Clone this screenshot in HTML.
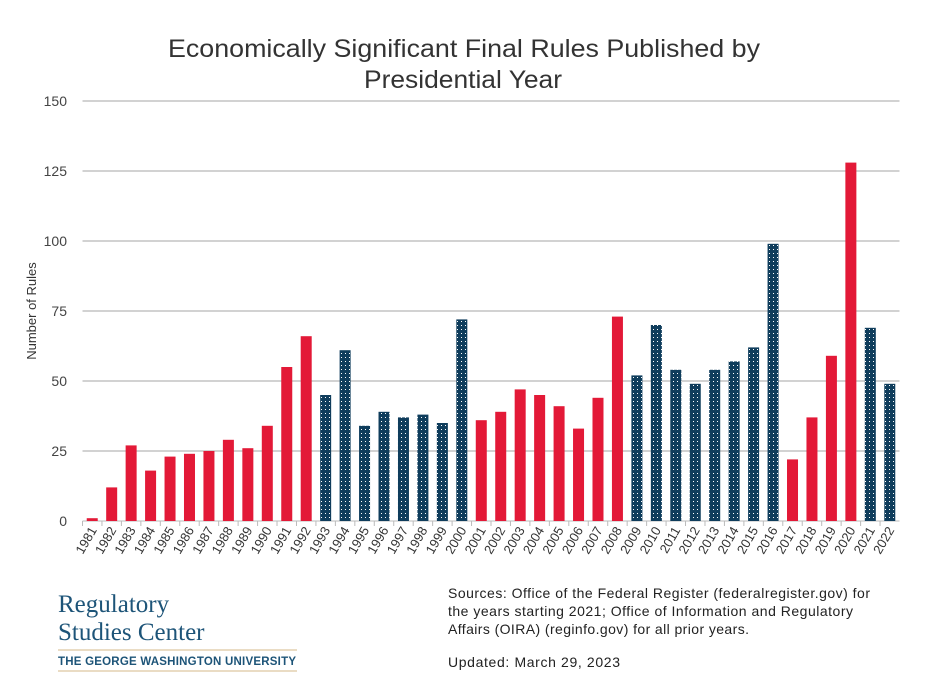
<!DOCTYPE html>
<html><head><meta charset="utf-8">
<style>
body{margin:0;background:#fff;font-family:"Liberation Sans",sans-serif;}
</style></head>
<body>
<svg width="938" height="691" xmlns="http://www.w3.org/2000/svg">
<defs>
<pattern id="dots" width="4" height="4" patternUnits="userSpaceOnUse">
<rect width="4" height="4" fill="#0f3d5c"/>
<rect x="1" y="1" width="1" height="1" fill="#fff"/>
</pattern>
</defs>
<text x="168" y="57" font-size="25" fill="#333" textLength="592" lengthAdjust="spacingAndGlyphs">Economically Significant Final Rules Published by</text>
<text x="364" y="88" font-size="25" fill="#333" textLength="198" lengthAdjust="spacingAndGlyphs">Presidential Year</text>
<g id="grid"></g>
<g id="bars"></g>
<g id="xlabels"></g>
<text transform="translate(36,311) rotate(-90)" text-anchor="middle" font-size="13" fill="#333">Number of Rules</text>
<g>
<text x="58" y="612" font-family="Liberation Serif,serif" font-size="25" fill="#1d5478">Regulatory</text>
<text x="58" y="640" font-family="Liberation Serif,serif" font-size="25" fill="#1d5478">Studies Center</text>
<line x1="58" y1="650" x2="297" y2="650" stroke="#d4b98a" stroke-width="1"/>
<text x="58" y="665" font-size="11.5" font-weight="bold" fill="#1d5478" textLength="238">THE GEORGE WASHINGTON UNIVERSITY</text>
<line x1="58" y1="671" x2="297" y2="671" stroke="#d4b98a" stroke-width="1"/>
</g>
<g font-size="14" fill="#222">
<text x="448" y="598" textLength="422">Sources: Office of the Federal Register (federalregister.gov) for</text>
<text x="448" y="616" textLength="405">the years starting 2021; Office of Information and Regulatory</text>
<text x="448" y="634" textLength="301">Affairs (OIRA) (reginfo.gov) for all prior years.</text>
<text x="448" y="667" textLength="172">Updated: March 29, 2023</text>
</g>
</svg>
<script>
const years=[];for(let y=1981;y<=2022;y++)years.push(String(y));
const values=[1,12,27,18,23,24,25,29,26,34,55,66,45,61,34,39,37,38,35,72,36,39,47,45,41,33,44,73,52,70,54,49,54,57,62,99,22,37,59,128,69,49];
const parties=["R","R","R","R","R","R","R","R","R","R","R","R","D","D","D","D","D","D","D","D","R","R","R","R","R","R","R","R","D","D","D","D","D","D","D","D","R","R","R","R","D","D"];
const yTicks=[0,25,50,75,100,125,150];
const NS="http://www.w3.org/2000/svg";
const x0=82.5,x1=899.5,yBase=521,yTop=101,yMax=150;
const step=(x1-x0)/years.length;
const yS=v=>yBase-(v/yMax)*(yBase-yTop);
const xC=i=>x0+step*(i+0.5);
const grid=document.getElementById('grid');
yTicks.forEach(t=>{
 const l=document.createElementNS(NS,'line');
 
 
 l.setAttribute('x1',x0);l.setAttribute('x2',x1);l.setAttribute('y1',yS(t));l.setAttribute('y2',yS(t));
 l.setAttribute('stroke',t===0?'#bbb':'#a6a6a6');l.setAttribute('stroke-width','1');
 grid.appendChild(l);
 const tx=document.createElementNS(NS,'text');
 
 
 tx.setAttribute('x',67);tx.setAttribute('y',yS(t)+5);tx.setAttribute('text-anchor','end');
 tx.setAttribute('font-size','14');tx.setAttribute('fill','#444');tx.textContent=t;
 grid.appendChild(tx);
});
const bars=document.getElementById('bars'),xl=document.getElementById('xlabels');
const bw=11;
years.forEach((yr,i)=>{
 const r=document.createElementNS(NS,'rect');
 
 
 r.setAttribute('x',xC(i)-bw/2);r.setAttribute('width',bw);
 r.setAttribute('y',yS(values[i]));r.setAttribute('height',yBase-yS(values[i]));
 r.setAttribute('fill',parties[i]==='R'?'#e31937':'url(#dots)');
 bars.appendChild(r);
 const tk=document.createElementNS(NS,'line');
 
 
 const tx0=x0+step*i;
 tk.setAttribute('x1',tx0);tk.setAttribute('x2',tx0);tk.setAttribute('y1',yBase);tk.setAttribute('y2',yBase+5);tk.setAttribute('stroke','#bbb');
 xl.appendChild(tk);
 const t=document.createElementNS(NS,'text');
 
 
 t.setAttribute('transform','translate('+(xC(i)+5)+','+(yBase+9)+') rotate(-60)');
 t.setAttribute('text-anchor','end');t.setAttribute('font-size','13');t.setAttribute('fill','#333');
 t.textContent=yr;xl.appendChild(t);
});
</script>
</body></html>
